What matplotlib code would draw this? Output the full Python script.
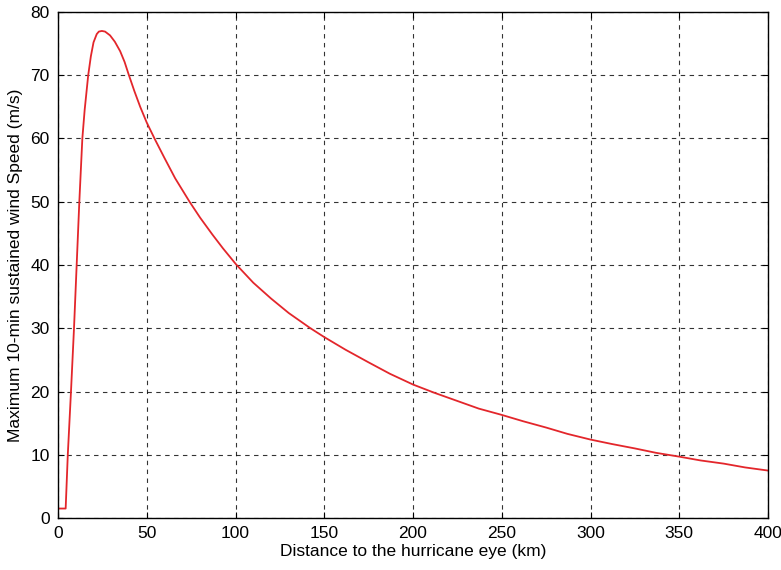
import numpy as np
import matplotlib
matplotlib.use("Agg")
import matplotlib.pyplot as plt

# valeurs
dist_km = [0, 4.3, 5.5, 7.3, 9, 10.5, 12, 13.7, 15, 17, 18.5, 20, 21.8, 23,
           24.7, 26.5, 29.3, 32, 35, 37.5, 39.7, 43, 46.3, 50, 54.7, 60, 66,
           74.1, 80, 87, 93, 100.3, 110, 120, 130, 142.2, 150, 162, 175, 187,
           200, 212, 225, 237, 250, 262, 275, 287, 300, 312, 325, 337, 350,
           362, 375, 387, 400]
wind_ms = [1.5, 1.5, 10, 20, 30, 40, 50, 60, 64.5, 70, 73, 75.2, 76.5, 76.9,
           77, 76.9, 76.3, 75.3, 73.8, 72.1, 70.2, 67.5, 65.0, 62.5, 59.8,
           56.9, 53.7, 50, 47.5, 44.8, 42.6, 40.1, 37.2, 34.7, 32.4, 30,
           28.6, 26.6, 24.6, 22.8, 21.1, 19.8, 18.5, 17.3, 16.3, 15.3, 14.3,
           13.3, 12.4, 11.7, 11, 10.3, 9.7, 9.1, 8.6, 8, 7.5]

plt.rcParams['font.family'] = ['Liberation Sans', 'DejaVu Sans']

fig = plt.figure(figsize=(7.81, 5.70), dpi=100)
ax = fig.add_axes([0.0743, 0.0912, 0.9091, 0.8878])

ax.plot(dist_km, wind_ms, color='#e3262b', lw=1.3)

ax.set_xlim(0, 400)
ax.set_ylim(0, 80)
ax.set_xticks(np.arange(0, 401, 50))
ax.set_yticks(np.arange(0, 81, 10))
ax.grid(True, color='black', linestyle=(0, (4, 4)), linewidth=0.8, alpha=0.8)
ax.tick_params(direction='in', top=True, right=True, labelsize=12.5,
               length=4, pad=6)
for s in ax.spines.values():
    s.set_linewidth(1.0)

ax.set_xlabel("Distance to the hurricane eye (km)", fontsize=12.5, labelpad=2)
ax.set_ylabel("Maximum 10-min sustained wind Speed (m/s)", fontsize=12.5,
              labelpad=5)

fig.savefig("out.png", dpi=100)
